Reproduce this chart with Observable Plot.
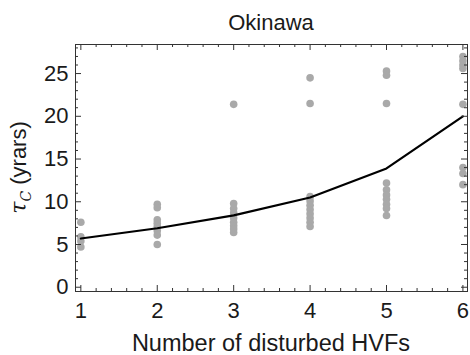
<!DOCTYPE html>
<html><head><meta charset="utf-8">
<script src="https://cdn.jsdelivr.net/npm/d3@7"></script>
<script src="https://cdn.jsdelivr.net/npm/@observablehq/plot@0.6"></script>
<style>body{margin:0;background:#fff;}</style>
</head><body><div id="chart"></div>
<script>
const title = "Okinawa";
const xLabel = "Number of disturbed HVFs";
const hvfs = [1, 2, 3, 4, 5, 6];
const meanTau = [5.7, 6.9, 8.4, 10.5, 13.9, 20.0];
const tauAt1 = [7.6, 5.9, 5.4, 4.7];
const tauAt2 = [9.7, 9.3, 7.9, 7.5, 7.1, 6.6, 6.1, 5.0];
const tauAt3 = [21.4, 9.8, 9.2, 8.7, 8.1, 7.6, 7.2, 6.8, 6.4];
const tauAt4 = [24.5, 21.5, 10.6, 10.1, 9.6, 9.1, 8.6, 8.1, 7.6, 7.1];
const tauAt5 = [25.3, 24.8, 21.5, 12.2, 11.4, 10.8, 10.3, 9.7, 9.2, 8.4];
const tauAt6 = [27.0, 26.5, 26.0, 25.6, 21.4, 14.0, 13.3, 12.0];
const xMajorTicks = [1, 2, 3, 4, 5, 6];
const xMinorTicks = [1.2,1.4,1.6,1.8,2.2,2.4,2.6,2.8,3.2,3.4,3.6,3.8,4.2,4.4,4.6,4.8,5.2,5.4,5.6,5.8];
const yMajorTicks = [0, 5, 10, 15, 20, 25];
const yMinorTicks = [1,2,3,4,6,7,8,9,11,12,13,14,16,17,18,19,21,22,23,24,26,27,28];

const groups = [tauAt1, tauAt2, tauAt3, tauAt4, tauAt5, tauAt6];
const points = groups.flatMap((arr, i) => arr.map(v => ({x: hvfs[i], y: v})));
const means = hvfs.map((h, i) => ({x: h, y: meanTau[i]}));

const W = 470, H = 355, mL = 75, mR = 3, mT = 44, mB = 64;
const innerW = W - mL - mR, innerH = H - mT - mB;
const majorLen = 6, minorLen = 3;
const tickColor = "#333";

const chart = Plot.plot({
  width: W, height: H,
  marginLeft: mL, marginRight: mR, marginTop: mT, marginBottom: mB,
  x: {domain: [0.93, 6.06]},
  y: {domain: [-0.5, 28.4]},
  style: {fontFamily: "'Liberation Sans', Arial, sans-serif", fontSize: "22px", color: "#1a1a1a", background: "#fff"},
  marks: [
    Plot.dot(points, {x: "x", y: "y", r: 3.8, fill: "#a9a9a9", clip: true}),
    Plot.line(means, {x: "x", y: "y", stroke: "#000", strokeWidth: 2.2}),
    Plot.frame({stroke: tickColor}),
    Plot.tickX(xMajorTicks, {x: d => d, stroke: tickColor, insetTop: innerH - majorLen}),
    Plot.tickX(xMinorTicks, {x: d => d, stroke: tickColor, insetTop: innerH - minorLen}),
    Plot.tickX(xMajorTicks, {x: d => d, stroke: tickColor, insetBottom: innerH - majorLen}),
    Plot.tickX(xMinorTicks, {x: d => d, stroke: tickColor, insetBottom: innerH - minorLen}),
    Plot.tickY(yMajorTicks, {y: d => d, stroke: tickColor, insetRight: innerW - majorLen}),
    Plot.tickY(yMinorTicks, {y: d => d, stroke: tickColor, insetRight: innerW - minorLen}),
    Plot.tickY(yMajorTicks, {y: d => d, stroke: tickColor, insetLeft: innerW - majorLen}),
    Plot.tickY(yMinorTicks, {y: d => d, stroke: tickColor, insetLeft: innerW - minorLen}),
    Plot.axisX({anchor: "bottom", ticks: xMajorTicks, tickSize: 0, tickPadding: 11, label: null, tickFormat: d => String(d)}),
    Plot.axisY({anchor: "left", ticks: yMajorTicks, tickSize: 0, tickPadding: 7, label: null, tickFormat: d => String(d)})
  ]
});

const svg = d3.select(chart);
const cx = mL + innerW / 2;
svg.append("text").attr("x", cx).attr("y", 30).attr("text-anchor", "middle")
  .attr("font-size", 22).attr("fill", "#1a1a1a").text(title);
svg.append("text").attr("x", cx).attr("y", 351).attr("text-anchor", "middle")
  .attr("font-size", 23.5).attr("fill", "#1a1a1a").text(xLabel);
const yl = svg.append("text").attr("transform", `translate(26,${mT + innerH / 2}) rotate(-90)`)
  .attr("text-anchor", "middle").attr("font-size", 22).attr("fill", "#1a1a1a");
yl.append("tspan").attr("font-family", "'DejaVu Serif', serif").attr("font-style", "italic").text("τ");
yl.append("tspan").attr("font-family", "'DejaVu Serif', serif").attr("font-style", "italic").attr("font-size", 14).attr("dy", 5).text("C");
yl.append("tspan").attr("dy", -5).text(" (yrars)");

document.getElementById("chart").appendChild(chart);
</script>
</body></html>
